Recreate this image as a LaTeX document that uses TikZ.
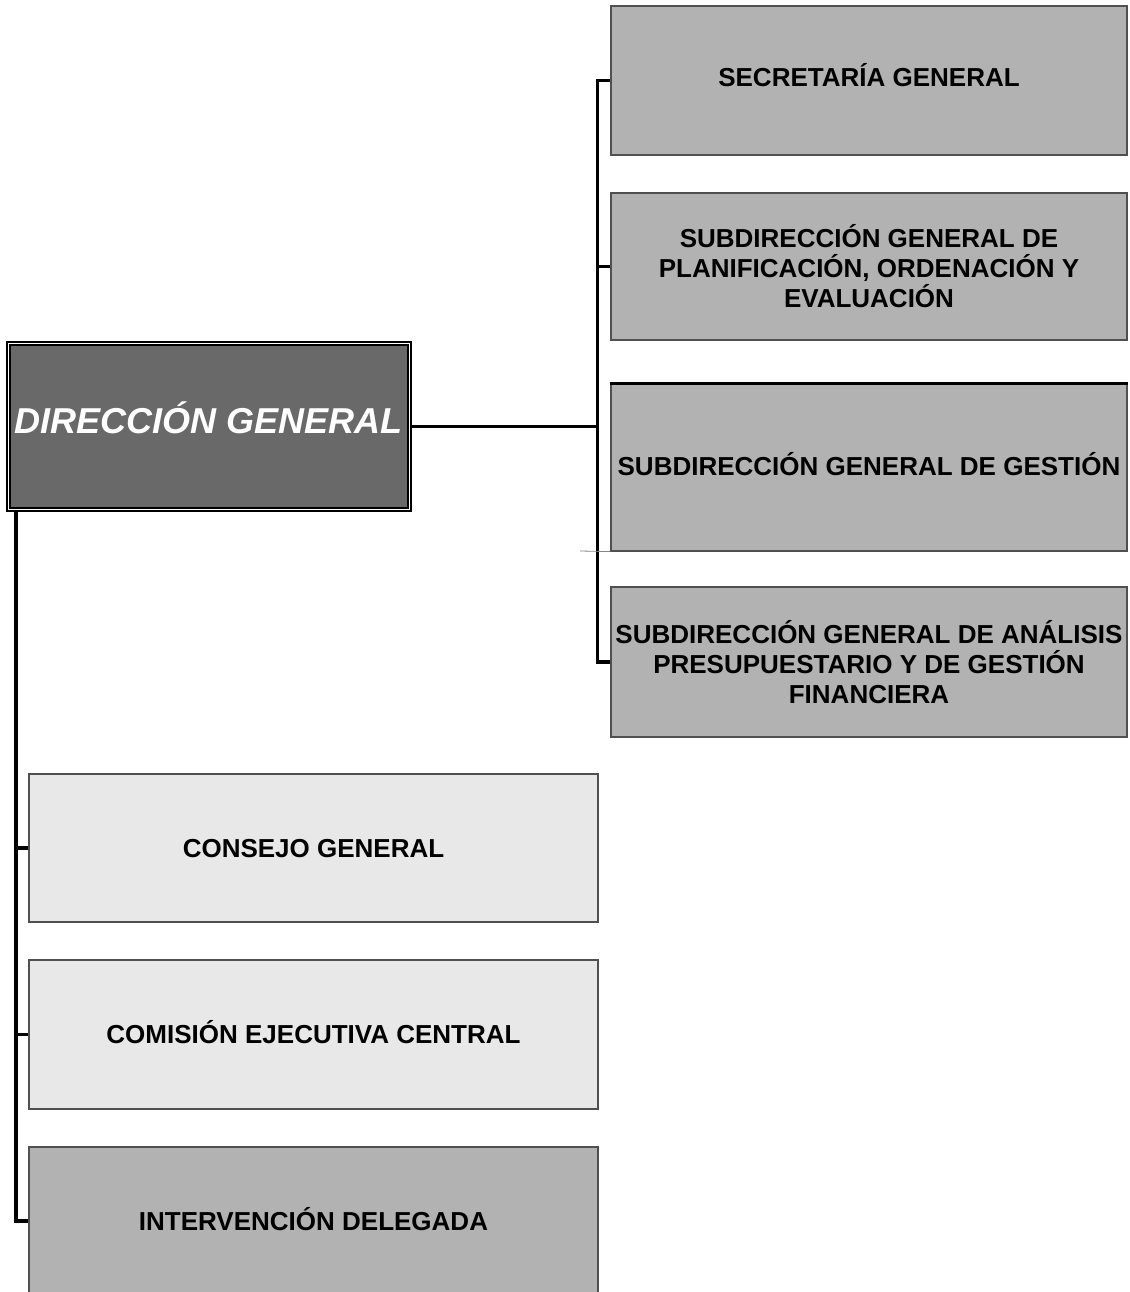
\documentclass[tikz,border=0pt]{standalone}
\usepackage{fontspec}
\setmainfont{Liberation Sans}
\definecolor{boxgray}{HTML}{B2B2B2}
\definecolor{boxlight}{HTML}{E8E8E8}
\definecolor{dgfill}{HTML}{696969}
\definecolor{edge}{HTML}{505050}
\tikzset{
  unitbox/.style={draw=edge, line width=1.2pt, inner sep=0pt, align=center,
    font=\fontsize{26}{30}\selectfont\bfseries, text=black},
  oneline/.style={text height=18.6pt, text depth=#1},
  rightbox/.style={unitbox, fill=boxgray, minimum width=516pt},
  leftbox/.style={unitbox, minimum width=569pt},
  dgbox/.style={draw=black, line width=1.6pt, double=white, double distance=1.8pt,
    fill=dgfill, inner sep=0pt, minimum width=401pt, minimum height=166pt,
    font=\fontsize{36}{40}\selectfont\bfseries\itshape, text=white,
    text height=25.8pt, text depth=11pt},
  conn/.style={draw=black, line width=3.1pt},
  faint/.style={draw=edge!70, line width=0.8pt}
}
\begin{document}
\begin{tikzpicture}[x=1pt,y=-1pt]
\useasboundingbox (0,0) rectangle (1129,1292);
\fill[white] (0,0) rectangle (1129,1292);

% right boxes
\node[rightbox, oneline=7pt, minimum height=149pt] (sec) at (869,80.5) {SECRETARÍA GENERAL};
\node[rightbox, minimum height=147pt] (plan) at (869,266.5) {SUBDIRECCIÓN GENERAL DE\\PLANIFICACIÓN, ORDENACIÓN Y\\EVALUACIÓN};
\node[rightbox, oneline=2pt, minimum height=167pt] (gest) at (869,467.5) {SUBDIRECCIÓN GENERAL DE GESTIÓN};
\node[rightbox, minimum height=150pt] (anal) at (869,662) {SUBDIRECCIÓN GENERAL DE ANÁLISIS\\PRESUPUESTARIO Y DE GESTIÓN\\FINANCIERA};
\draw[black, line width=2.2pt] (gest.north west) -- (gest.north east);

% left boxes
\node[leftbox, oneline=0pt, fill=boxlight, minimum height=148pt] (cons) at (313.5,848) {CONSEJO GENERAL};
\node[leftbox, oneline=1pt, fill=boxlight, minimum height=149pt] (com) at (313.5,1034.5) {COMISIÓN EJECUTIVA CENTRAL};
\node[leftbox, oneline=0pt, fill=boxgray, minimum height=148pt] (int) at (313.5,1221) {INTERVENCIÓN DELEGADA};

% direccion general
\node[dgbox] (dg) at (209,426.5) {DIRECCIÓN GENERAL};

% trunk coordinates
\coordinate (rtr) at (598,0);
\coordinate (ltr) at (16,0);
\coordinate (gstub) at (580,551);

% right side connectors
\draw[conn] (sec.west) -| ([xshift=-13pt]anal.west) -- (anal.west);
\draw[conn] (plan.west) -- (plan.west -| rtr);
\draw[conn] (dg.east) -- (dg.east -| rtr);
\draw[faint] (gstub) -- (gest.south west);

% left side connectors
\draw[conn] (dg.south west -| ltr) |- (int.west);
\draw[conn] (cons.west) -- (cons.west -| ltr);
\draw[conn] (com.west) -- (com.west -| ltr);
\end{tikzpicture}
\end{document}
